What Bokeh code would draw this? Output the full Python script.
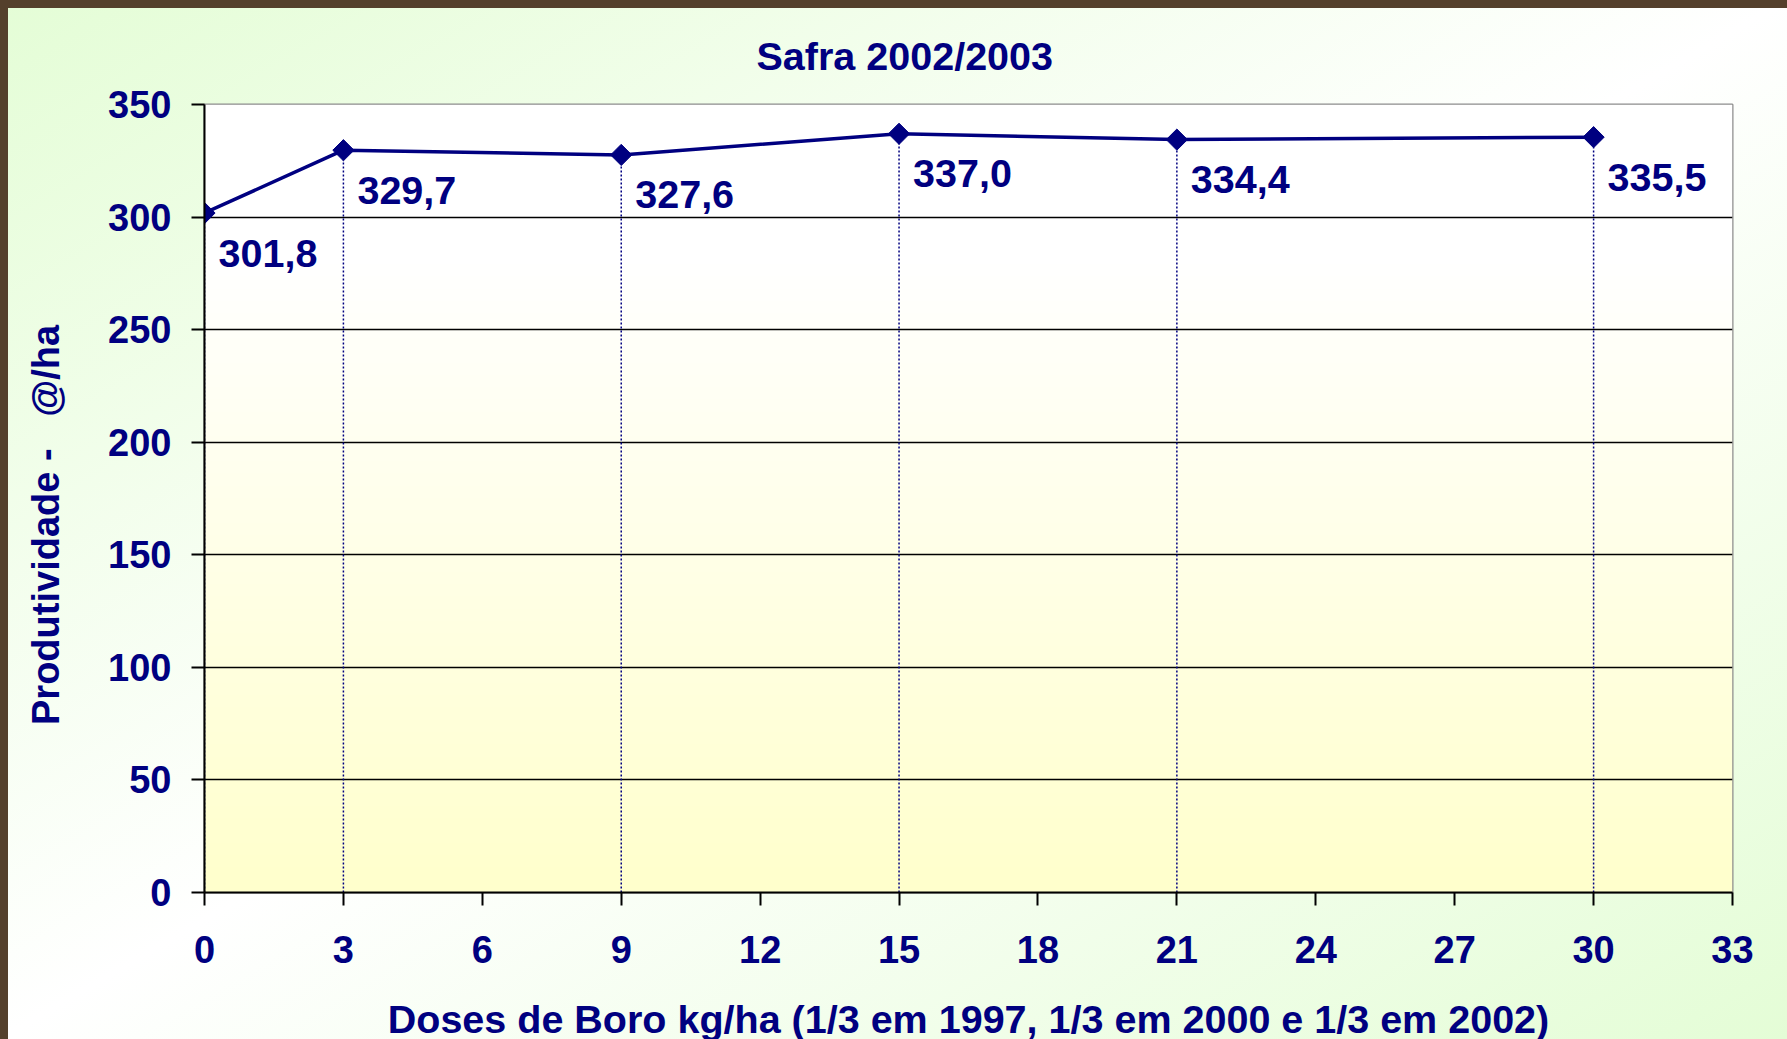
import numpy as np
from bokeh.plotting import figure
from bokeh.models import FixedTicker, ColumnDataSource
from bokeh.core.properties import value
from bokeh.embed import file_html
from bokeh.resources import INLINE

# ---- data ----
doses = [0, 3, 9, 15, 21, 30]
produtividade = [301.8, 329.7, 327.6, 337.0, 334.4, 335.5]
labels = ["301,8", "329,7", "327,6", "337,0", "334,4", "335,5"]
x_ticks = [0, 3, 6, 9, 12, 15, 18, 21, 24, 27, 30, 33]
y_ticks = [0, 50, 100, 150, 200, 250, 300, 350]
title_text = "Safra 2002/2003"
x_title = "Doses de Boro kg/ha (1/3 em 1997, 1/3 em 2000 e 1/3 em 2002)"
y_title = "Produtividade -\u00a0\u00a0\u00a0@/ha" + "\u00a0" * 5

NAVY = "#000080"
FONT = "Liberation Sans"
FS = "38px"
FS_BIG = "39.5px"

src = ColumnDataSource(dict(x=doses, y=produtividade, lab=labels,
                            y0=[0] * len(doses)))

# figure sits at (8, 0); the brown top strip shows through its transparent border
p = figure(width=1779, height=1043, x_range=(0, 33), y_range=(0, 350),
           output_backend="svg", toolbar_location=None,
           min_border_left=196, min_border_right=55,
           min_border_top=104, min_border_bottom=146)

p.border_fill_color = None
p.background_fill_color = None
p.outline_line_color = "#8c8c8c"
p.outline_line_width = 2

# plot area gradient (white top -> pale yellow bottom)
n = 256
t = np.linspace(0, 1, n)  # 0 bottom, 1 top
b = (204 + (255 - 204) * np.clip(t * 1.25, 0, 1)).astype(np.uint32)
rgba = (np.uint32(255) << 24) | (b << 16) | (np.uint32(255) << 8) | np.uint32(255)
img = rgba.astype(np.uint32).reshape(n, 1)
p.image_rgba(image=[img], x=0, y=0, dw=33, dh=350, level="image")

# title
p.title.text = title_text
p.title.align = "left"
p.title.offset = 552
p.title.text_font = FONT
p.title.text_font_size = FS_BIG
p.title.text_font_style = "bold"
p.title.text_color = NAVY
p.title.standoff = 54

# axes
for ax in (p.xaxis[0], p.yaxis[0]):
    ax.axis_line_color = "black"
    ax.axis_line_width = 2
    ax.major_tick_line_color = "black"
    ax.major_tick_line_width = 2
    ax.major_tick_out = 13
    ax.major_tick_in = 0
    ax.minor_tick_line_color = None
    ax.major_label_text_font = FONT
    ax.major_label_text_font_size = FS
    ax.major_label_text_font_style = "bold"
    ax.major_label_text_color = NAVY
    ax.axis_label_text_font = FONT
    ax.axis_label_text_font_style = "bold"
    ax.axis_label_text_color = NAVY

p.xaxis.axis_label_text_font_size = FS_BIG
p.yaxis.axis_label_text_font_size = FS
p.xaxis.ticker = FixedTicker(ticks=x_ticks)
p.yaxis.ticker = FixedTicker(ticks=y_ticks)
p.xaxis.major_label_standoff = 30
p.yaxis.major_label_standoff = 20
p.xaxis.axis_label = x_title
p.yaxis.axis_label = y_title
p.xaxis.axis_label_standoff = 31
p.yaxis.axis_label_standoff = 38

# grid
p.xgrid.grid_line_color = None
p.ygrid.ticker = FixedTicker(ticks=[v for v in y_ticks if v not in (0, 350)])
p.ygrid.grid_line_color = "black"
p.ygrid.grid_line_width = 1.5

# drop lines
p.segment(x0="x", y0="y0", x1="x", y1="y", source=src,
          line_color=NAVY, line_width=1.5, line_dash="2 2")

# series
p.line(x="x", y="y", source=src, line_color=NAVY, line_width=3.5)
p.scatter(x="x", y="y", source=src, marker="square", angle=np.pi / 4,
          size=15, fill_color=NAVY, line_color=NAVY)

# data labels
p.text(x="x", y="y", text="lab", source=src, x_offset=14, y_offset=40,
       text_font=value(FONT), text_font_size="39.5px", text_font_style="bold",
       text_color=NAVY, text_align="left", text_baseline="middle")

TEMPLATE = """
{% block preamble %}
<style>
html {
  background-color: #eefde6;
  background-image:
    linear-gradient(to bottom, #54402c 0px, #54402c 8px, rgba(255,255,255,0) 8px, rgba(255,255,255,0) 100%),
    linear-gradient(to bottom right, #e4fdd6 0%, #ffffff 50%, #e4fdd6 100%);
  background-repeat: no-repeat;
  background-attachment: fixed;
  overflow: hidden;
}
body {
  background: transparent;
  border-left: 8px solid #54402c;
  overflow: hidden;
}
</style>
{% endblock %}
"""

open("out.html", "w").write(file_html(p, INLINE, template=TEMPLATE))
